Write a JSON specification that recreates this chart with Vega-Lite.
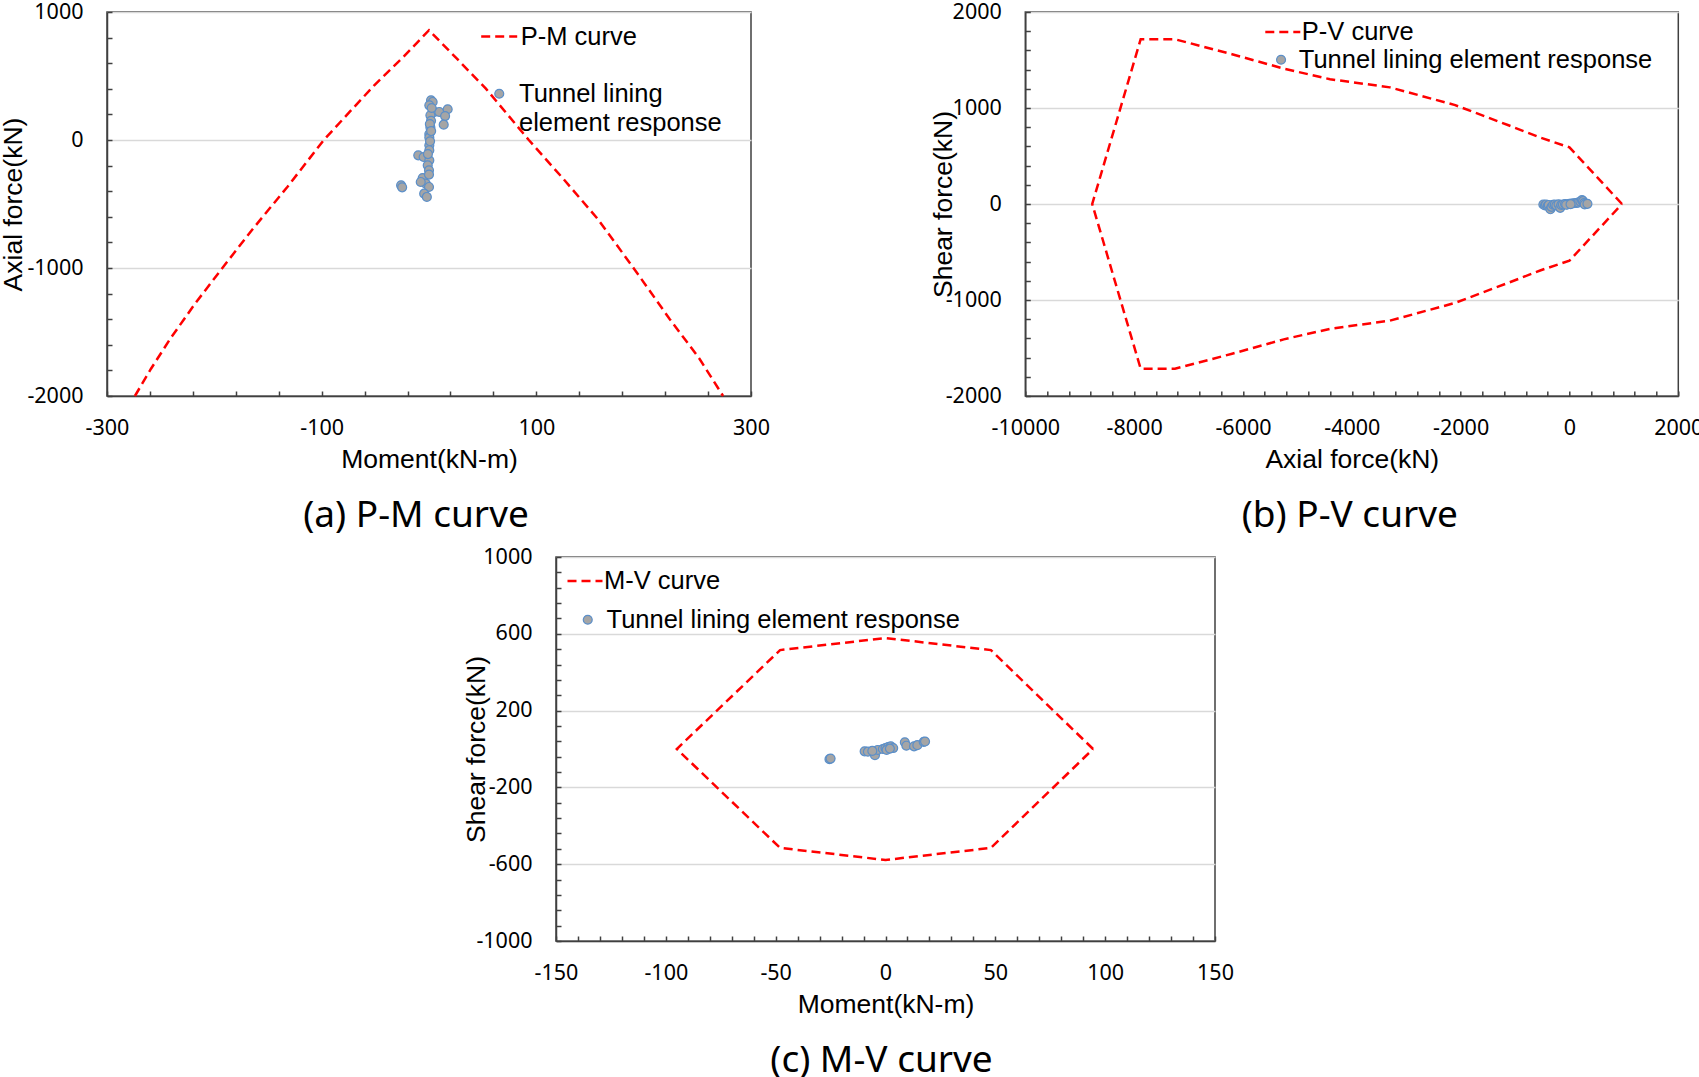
{
  "$schema": "https://vega.github.io/schema/vega-lite/v6.json",
  "padding": 0,
  "background": "white",
  "datasets": {
    "pm_curve": [
      {"i":1,"M":-274,"P":-2000},{"i":2,"M":-259,"P":-1787},{"i":3,"M":-241,"P":-1552},{"i":4,"M":-218,"P":-1279},
      {"i":5,"M":-193,"P":-1005},{"i":6,"M":-164,"P":-693},{"i":7,"M":-132,"P":-367},{"i":8,"M":-98,"P":0},
      {"i":9,"M":-74,"P":219},{"i":10,"M":-51,"P":427},{"i":11,"M":-24,"P":648},{"i":12,"M":0,"P":858},
      {"i":13,"M":26,"P":635},{"i":14,"M":53,"P":401},{"i":15,"M":93,"P":0},{"i":16,"M":125,"P":-302},
      {"i":17,"M":157,"P":-615},{"i":18,"M":191,"P":-1005},{"i":19,"M":224,"P":-1396},{"i":20,"M":252,"P":-1709},
      {"i":21,"M":274,"P":-2000}
    ],
    "pm_pts": [
      {"M":1.9,"P":310},{"M":3.4,"P":297},{"M":0.3,"P":271},{"M":5,"P":219},{"M":1.3,"P":193},{"M":9.6,"P":219},
      {"M":17.4,"P":240},{"M":15,"P":187},{"M":13.7,"P":120},{"M":1.9,"P":150},{"M":1.3,"P":98},{"M":0.3,"P":46},
      {"M":0.3,"P":20},{"M":2.5,"P":250},{"M":0.8,"P":125},{"M":2,"P":70},{"M":0.3,"P":-41},{"M":0.3,"P":-80},
      {"M":-10,"P":-120},{"M":-5,"P":-133},{"M":0.3,"P":-159},{"M":-1.2,"P":-198},{"M":0,"P":-237},{"M":-5.9,"P":-297},
      {"M":-3,"P":-341},{"M":-7.7,"P":-328},{"M":0,"P":-367},{"M":-4.5,"P":-419},{"M":-2,"P":-445},{"M":-26,"P":-354},
      {"M":-25,"P":-370},{"M":0,"P":-270},{"M":-1,"P":-110},{"M":1,"P":-10}
    ],
    "pv_curve": [
      {"i":1,"P":965,"V":0},{"i":2,"P":0,"V":590},{"i":3,"P":-527,"V":690},{"i":4,"P":-1120,"V":820},
      {"i":5,"P":-2100,"V":1030},{"i":6,"P":-3300,"V":1215},{"i":7,"P":-4400,"V":1300},{"i":8,"P":-5250,"V":1410},
      {"i":9,"P":-6200,"V":1560},{"i":10,"P":-7250,"V":1716},{"i":11,"P":-7880,"V":1716},{"i":12,"P":-8770,"V":0},
      {"i":13,"P":-7880,"V":-1716},{"i":14,"P":-7250,"V":-1716},{"i":15,"P":-6200,"V":-1560},{"i":16,"P":-5250,"V":-1410},
      {"i":17,"P":-4400,"V":-1300},{"i":18,"P":-3300,"V":-1215},{"i":19,"P":-2100,"V":-1030},{"i":20,"P":-1120,"V":-820},
      {"i":21,"P":-527,"V":-690},{"i":22,"P":0,"V":-590},{"i":23,"P":965,"V":0}
    ],
    "pv_pts": [
      {"P":-480,"V":-5},{"P":-450,"V":-15},{"P":-430,"V":-5},{"P":-400,"V":-20},{"P":-380,"V":-10},{"P":-350,"V":-55},{"P":-330,"V":-30},{"P":-300,"V":-8},
      {"P":-270,"V":-5},{"P":-240,"V":-15},{"P":-200,"V":-3},{"P":-170,"V":-40},{"P":-150,"V":-10},{"P":-120,"V":-5},
      {"P":-80,"V":0},{"P":-40,"V":-5},{"P":0,"V":3},{"P":40,"V":5},{"P":80,"V":8},{"P":120,"V":10},{"P":160,"V":15},
      {"P":200,"V":25},{"P":230,"V":40},{"P":250,"V":30},{"P":270,"V":10},{"P":300,"V":0},{"P":280,"V":-5},{"P":330,"V":2},
      {"P":-60,"V":-8},{"P":20,"V":-2}
    ],
    "mv_curve": [
      {"i":1,"M":94.5,"V":0},{"i":2,"M":48,"V":515},{"i":3,"M":0,"V":578},{"i":4,"M":-48,"V":515},
      {"i":5,"M":-95,"V":0},{"i":6,"M":-48,"V":-515},{"i":7,"M":0,"V":-578},{"i":8,"M":48,"V":-515},{"i":9,"M":94.5,"V":0}
    ],
    "mv_pts": [
      {"M":-25.5,"V":-53},{"M":-25,"V":-50},{"M":-9.5,"V":-12},{"M":-8,"V":-14},{"M":-4.8,"V":-32},{"M":-3.5,"V":-5},
      {"M":-1.2,"V":0},{"M":0,"V":5},{"M":1.2,"V":10},{"M":2.4,"V":14},{"M":3.5,"V":5},{"M":8.8,"V":35},{"M":9.5,"V":17},
      {"M":13,"V":14},{"M":14.5,"V":20},{"M":17.4,"V":37},{"M":18,"V":39},{"M":-6,"V":-10},{"M":0.5,"V":-5},{"M":2,"V":2}
    ]
  },
  "config": {
    "view": {"stroke": "#404040", "strokeWidth": 1.5},
    "axis": {
      "domainColor": "#404040", "domainWidth": 1.5,
      "tickColor": "#404040", "tickWidth": 1.5, "tickSize": -5, "tickCount": 1000,
      "labelFont": "Noto Sans", "labelFontSize": 21.5, "labelColor": "#000000", "labelPadding": 26,
      "labelFlush": false, "labelOverlap": false, "labelBound": false,
      "titleFont": "Liberation Sans", "titleFontSize": 26.5, "titleFontWeight": "normal", "titleColor": "#000000",
      "gridColor": "#d9d9d9", "gridWidth": 1.5
    },
    "legend": {"labelFont": "Liberation Sans", "labelFontSize": 25.5, "labelColor": "#000000", "padding": 0, "orient": "none", "labelLimit": 600},
    "title": {"font": "Noto Sans", "fontSize": 37, "fontWeight": "normal", "color": "#000000", "orient": "bottom", "frame": "group", "anchor": "middle"}
  },
  "vconcat": [
    {
      "hconcat": [
        {
          "width": 644, "height": 384,
          "title": {"text": "(a) P-M curve", "offset": 24.5, "dx": -13},
          "layer": [
            {
              "data": {"name": "pm_curve"},
              "mark": {"type": "line", "strokeDash": [9, 5], "strokeWidth": 2.5},
              "encoding": {
                "x": {"field": "M", "type": "quantitative", "scale": {"domain": [-300, 300], "nice": false},
                  "axis": {"title": "Moment(kN-m)", "titlePadding": 8, "grid": false, "labelOverlap": false, "tickCount": 1000,
                    "values": [-300,-260,-220,-180,-140,-100,-60,-20,20,60,100,140,180,220,260,300],
                    "labelExpr": "abs(datum.value) % 200 === 100 ? '' + datum.value : ''"}},
                "y": {"field": "P", "type": "quantitative", "scale": {"domain": [-2000, 1000], "nice": false},
                  "axis": {"title": "Axial force(kN)", "titlePadding": -1, "grid": true, "labelOverlap": false, "labelPadding": 29, "tickCount": 1000,
                    "values": [-2000,-1800,-1600,-1400,-1200,-1000,-800,-600,-400,-200,0,200,400,600,800,1000],
                    "gridOpacity": {"condition": {"test": "datum.value % 1000 === 0", "value": 1}, "value": 0},
                    "labelExpr": "datum.value % 1000 === 0 ? '' + datum.value : ''"}},
                "order": {"field": "i"},
                "stroke": {"datum": "P-M curve", "type": "nominal", "scale": {"range": ["#ff0000"]},
                  "legend": {"title": null, "orient": "none", "legendX": 372.7, "legendY": 5, "symbolType": "stroke",
                    "symbolSize": 1296, "symbolStrokeWidth": 2.5, "symbolDash": [9, 5], "labelOffset": 2}}
              }
            },
            {
              "data": {"name": "pm_pts"},
              "mark": {"type": "circle", "size": 80, "stroke": "#5b8fc9", "strokeWidth": 1.2, "opacity": 1, "fillOpacity": 1},
              "encoding": {
                "x": {"field": "M", "type": "quantitative"},
                "y": {"field": "P", "type": "quantitative"},
                "fill": {"datum": "Tunnel lining element response", "type": "nominal", "scale": {"range": ["#a5a5a5"]},
                  "legend": {"title": null, "orient": "none", "legendX": 379.5, "legendY": 69, "symbolType": "circle",
                    "symbolSize": 80, "symbolStrokeColor": "#5b8fc9", "symbolStrokeWidth": 1.2, "symbolOpacity": 1, "labelOffset": 7,
                    "labelExpr": "['Tunnel lining', 'element response']",
                    "encode": {"labels": {"update": {"lineHeight": {"value": 29}}}}}}
              }
            }
          ],
          "resolve": {"scale": {"stroke": "independent", "fill": "independent"}}
        },
        {
          "width": 653, "height": 384,
          "title": {"text": "(b) P-V curve", "offset": 24.5, "dx": -2},
          "layer": [
            {
              "data": {"name": "pv_curve"},
              "mark": {"type": "line", "strokeDash": [9, 5], "strokeWidth": 2.5},
              "encoding": {
                "x": {"field": "P", "type": "quantitative", "scale": {"domain": [-10000, 2000], "nice": false},
                  "axis": {"title": "Axial force(kN)", "titlePadding": 8, "grid": false, "labelOverlap": false, "tickCount": 1000,
                    "values": [-10000,-9600,-9200,-8800,-8400,-8000,-7600,-7200,-6800,-6400,-6000,-5600,-5200,-4800,-4400,-4000,-3600,-3200,-2800,-2400,-2000,-1600,-1200,-800,-400,0,400,800,1200,1600,2000],
                    "labelExpr": "datum.value % 2000 === 0 ? '' + datum.value : ''"}},
                "y": {"field": "V", "type": "quantitative", "scale": {"domain": [-2000, 2000], "nice": false},
                  "axis": {"title": "Shear force(kN)", "titlePadding": -12, "grid": true, "labelOverlap": false, "labelPadding": 29, "tickCount": 1000,
                    "values": [-2000,-1800,-1600,-1400,-1200,-1000,-800,-600,-400,-200,0,200,400,600,800,1000,1200,1400,1600,1800,2000],
                    "gridOpacity": {"condition": {"test": "datum.value % 1000 === 0", "value": 1}, "value": 0},
                    "labelExpr": "datum.value % 1000 === 0 ? '' + datum.value : ''"}},
                "order": {"field": "i"},
                "stroke": {"datum": "P-V curve", "type": "nominal", "scale": {"range": ["#ff0000"]},
                  "legend": {"title": null, "orient": "none", "legendX": 238.5, "legendY": 1, "symbolType": "stroke",
                    "symbolSize": 1225, "symbolStrokeWidth": 2.5, "symbolDash": [9, 5], "labelOffset": 0}}
              }
            },
            {
              "data": {"name": "pv_pts"},
              "mark": {"type": "circle", "size": 80, "stroke": "#5b8fc9", "strokeWidth": 1.2, "opacity": 1, "fillOpacity": 1},
              "encoding": {
                "x": {"field": "P", "type": "quantitative"},
                "y": {"field": "V", "type": "quantitative"},
                "fill": {"datum": "Tunnel lining element response", "type": "nominal", "scale": {"range": ["#a5a5a5"]},
                  "legend": {"title": null, "orient": "none", "legendX": 243, "legendY": 35, "symbolType": "circle",
                    "symbolSize": 80, "symbolStrokeColor": "#5b8fc9", "symbolStrokeWidth": 1.2, "symbolOpacity": 1, "labelOffset": 5}}
              }
            }
          ],
          "resolve": {"scale": {"stroke": "independent", "fill": "independent"}}
        }
      ],
      "spacing": 158.3,
      "resolve": {"scale": {"stroke": "independent", "fill": "independent"}, "legend": {"stroke": "independent", "fill": "independent"}}
    },
    {
      "hconcat": [
        {
          "width": 355.5, "height": 10,
          "view": {"stroke": null},
          "data": {"values": []},
          "mark": "point"
        },
        {
          "width": 659, "height": 384,
          "title": {"text": "(c) M-V curve", "offset": 24.5, "dx": -4},
          "layer": [
            {
              "data": {"name": "mv_curve"},
              "mark": {"type": "line", "strokeDash": [9, 5], "strokeWidth": 2.5},
              "encoding": {
                "x": {"field": "M", "type": "quantitative", "scale": {"domain": [-150, 150], "nice": false},
                  "axis": {"title": "Moment(kN-m)", "titlePadding": 8, "grid": false, "labelOverlap": false, "tickCount": 1000,
                    "values": [-150,-140,-130,-120,-110,-100,-90,-80,-70,-60,-50,-40,-30,-20,-10,0,10,20,30,40,50,60,70,80,90,100,110,120,130,140,150],
                    "labelExpr": "datum.value % 50 === 0 ? '' + datum.value : ''"}},
                "y": {"field": "V", "type": "quantitative", "scale": {"domain": [-1000, 1000], "nice": false},
                  "axis": {"title": "Shear force(kN)", "titlePadding": -15, "grid": true, "labelOverlap": false, "labelPadding": 29, "tickCount": 1000,
                    "values": [-1000,-920,-840,-760,-680,-600,-520,-440,-360,-280,-200,-120,-40,40,120,200,280,360,440,520,600,680,760,840,920,1000],
                    "gridOpacity": {"condition": {"test": "(datum.value + 1000) % 400 === 0", "value": 1}, "value": 0},
                    "labelExpr": "(datum.value + 1000) % 400 === 0 ? '' + datum.value : ''"}},
                "order": {"field": "i"},
                "stroke": {"datum": "M-V curve", "type": "nominal", "scale": {"range": ["#ff0000"]},
                  "legend": {"title": null, "orient": "none", "legendX": 10, "legendY": 5, "symbolType": "stroke",
                    "symbolSize": 1225, "symbolStrokeWidth": 2.5, "symbolDash": [9, 5], "labelOffset": 0}}
              }
            },
            {
              "data": {"name": "mv_pts"},
              "mark": {"type": "circle", "size": 80, "stroke": "#5b8fc9", "strokeWidth": 1.2, "opacity": 1, "fillOpacity": 1},
              "encoding": {
                "x": {"field": "M", "type": "quantitative"},
                "y": {"field": "V", "type": "quantitative"},
                "fill": {"datum": "Tunnel lining element response", "type": "nominal", "scale": {"range": ["#a5a5a5"]},
                  "legend": {"title": null, "orient": "none", "legendX": 19, "legendY": 50, "symbolType": "circle",
                    "symbolSize": 80, "symbolStrokeColor": "#5b8fc9", "symbolStrokeWidth": 1.2, "symbolOpacity": 1, "labelOffset": 6}}
              }
            }
          ],
          "resolve": {"scale": {"stroke": "independent", "fill": "independent"}}
        }
      ],
      "spacing": 0,
      "resolve": {"scale": {"stroke": "independent", "fill": "independent"}, "legend": {"stroke": "independent", "fill": "independent"}}
    }
  ],
  "spacing": 10,
  "resolve": {"scale": {"stroke": "independent", "fill": "independent"}, "legend": {"stroke": "independent", "fill": "independent"}}
}
